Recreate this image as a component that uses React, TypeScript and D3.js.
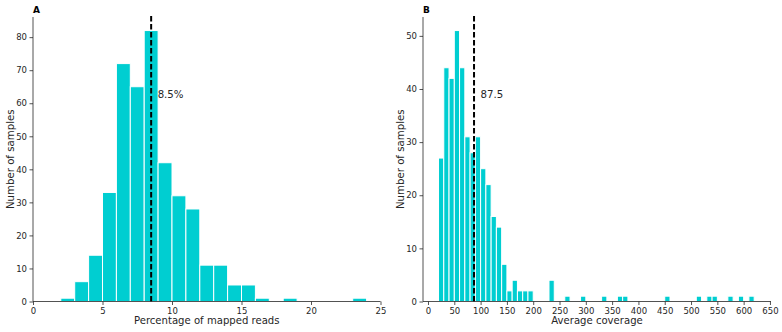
import React, { useEffect, useRef } from "react";
import * as d3 from "d3";

// panel A: percentage of mapped reads, bin width 1
const mappedBinStart = [2, 3, 4, 5, 6, 7, 8, 9, 10, 11, 12, 13, 14, 15, 16, 18, 23];
const mappedCounts = [1, 6, 14, 33, 72, 65, 82, 42, 32, 28, 11, 11, 5, 5, 1, 1, 1];
const mappedMedian = 8.5;
const mappedXTicks = [0, 5, 10, 15, 20, 25];
const mappedYTicks = [0, 10, 20, 30, 40, 50, 60, 70, 80];

// panel B: average coverage, bin width 10
const coverageBinStart = [20, 30, 40, 50, 60, 70, 80, 90, 100, 110, 120, 130, 140, 150, 160, 170, 180, 190, 230, 260, 290, 330, 360, 370, 450, 510, 530, 540, 570, 590, 610];
const coverageCounts = [27, 44, 42, 51, 44, 31, 28, 31, 25, 22, 16, 14, 7, 2, 4, 2, 2, 2, 4, 1, 1, 1, 1, 1, 1, 1, 1, 1, 1, 1, 1];
const coverageMedian = 87.5;
const coverageXTicks = [0, 50, 100, 150, 200, 250, 300, 350, 400, 450, 500, 550, 600, 650];
const coverageYTicks = [0, 10, 20, 30, 40, 50];

const W = 782;
const H = 332;
const top = 17;
const bottom = 301.5;
const barColor = "#00ced1";
const font = "'DejaVu Sans', sans-serif";

type PanelProps = {
  letter: string;
  left: number;
  right: number;
  xDomain: [number, number];
  yMax: number;
  starts: number[];
  counts: number[];
  binWidth: number;
  median: number;
  medianLabel: string;
  xTicks: number[];
  yTicks: number[];
  xTitle: string;
  yTitleX: number;
};

function Panel(p: PanelProps) {
  const xAxisRef = useRef<SVGGElement>(null);
  const yAxisRef = useRef<SVGGElement>(null);

  const x = d3.scaleLinear().domain(p.xDomain).range([p.left, p.right]);
  const y = d3.scaleLinear().domain([0, p.yMax]).range([bottom, top]);

  useEffect(() => {
    const xAxis = d3.axisBottom(x).tickValues(p.xTicks).tickSize(3.5).tickPadding(2.5).tickFormat(d3.format("d"));
    const yAxis = d3.axisLeft(y).tickValues(p.yTicks).tickSize(3.5).tickPadding(2.5).tickFormat(d3.format("d"));
    const gx = d3.select(xAxisRef.current!).call(xAxis as any);
    const gy = d3.select(yAxisRef.current!).call(yAxis as any);
    [gx, gy].forEach(g => {
      g.selectAll("text").attr("font-family", font).attr("font-size", 8.5).attr("fill", "#262626");
      g.selectAll("line").attr("stroke", "#262626").attr("stroke-width", 0.8);
      g.select(".domain").attr("stroke", "#262626").attr("stroke-width", 0.8);
    });
    // plain spines, no end ticks
    gx.select(".domain").attr("d", `M${p.left},0H${p.right}`);
    gy.select(".domain").attr("d", `M0,${bottom}V${top}`);
  });

  const mx = x(p.median);
  return (
    <g>
      {p.starts.map((s, i) => (
        <rect
          key={i}
          x={x(s)}
          width={x(s + p.binWidth) - x(s)}
          y={y(p.counts[i])}
          height={y(0) - y(p.counts[i])}
          fill={barColor}
          stroke="white"
          strokeWidth={1}
        />
      ))}
      <line x1={mx} x2={mx} y1={y(0)} y2={top - 2} stroke="black" strokeWidth={2} strokeDasharray="5.5,2.5" />
      <text x={mx + 6.5} y={97.5} fontFamily={font} fontSize={10.2} fill="#262626">
        {p.medianLabel}
      </text>
      <g ref={xAxisRef} transform={`translate(0, ${bottom})`} />
      <g ref={yAxisRef} transform={`translate(${p.left}, 0)`} />
      <text x={(p.left + p.right) / 2} y={323.5} textAnchor="middle" fontFamily={font} fontSize={10.1} fill="#262626">
        {p.xTitle}
      </text>
      <text
        transform={`translate(${p.yTitleX}, ${(top + bottom) / 2}) rotate(-90)`}
        textAnchor="middle"
        fontFamily={font}
        fontSize={10.2}
        fill="#262626"
      >
        Number of samples
      </text>
      <text x={p.left} y={12.5} fontFamily={font} fontSize={9} fontWeight="bold" fill="black">
        {p.letter}
      </text>
    </g>
  );
}

export default function App() {
  return (
    <svg width={W} height={H} style={{ position: "absolute", left: 0, top: 0, background: "white" }}>
      <Panel
        letter="A"
        left={33}
        right={380.5}
        xDomain={[0, 25]}
        yMax={82 * 1.05}
        starts={mappedBinStart}
        counts={mappedCounts}
        binWidth={1}
        median={mappedMedian}
        medianLabel="8.5%"
        xTicks={mappedXTicks}
        yTicks={mappedYTicks}
        xTitle="Percentage of mapped reads"
        yTitleX={13.5}
      />
      <Panel
        letter="B"
        left={423}
        right={771}
        xDomain={[-9.5, 652]}
        yMax={51 * 1.05}
        starts={coverageBinStart}
        counts={coverageCounts}
        binWidth={10}
        median={coverageMedian}
        medianLabel="87.5"
        xTicks={coverageXTicks}
        yTicks={coverageYTicks}
        xTitle="Average coverage"
        yTitleX={404}
      />
    </svg>
  );
}
